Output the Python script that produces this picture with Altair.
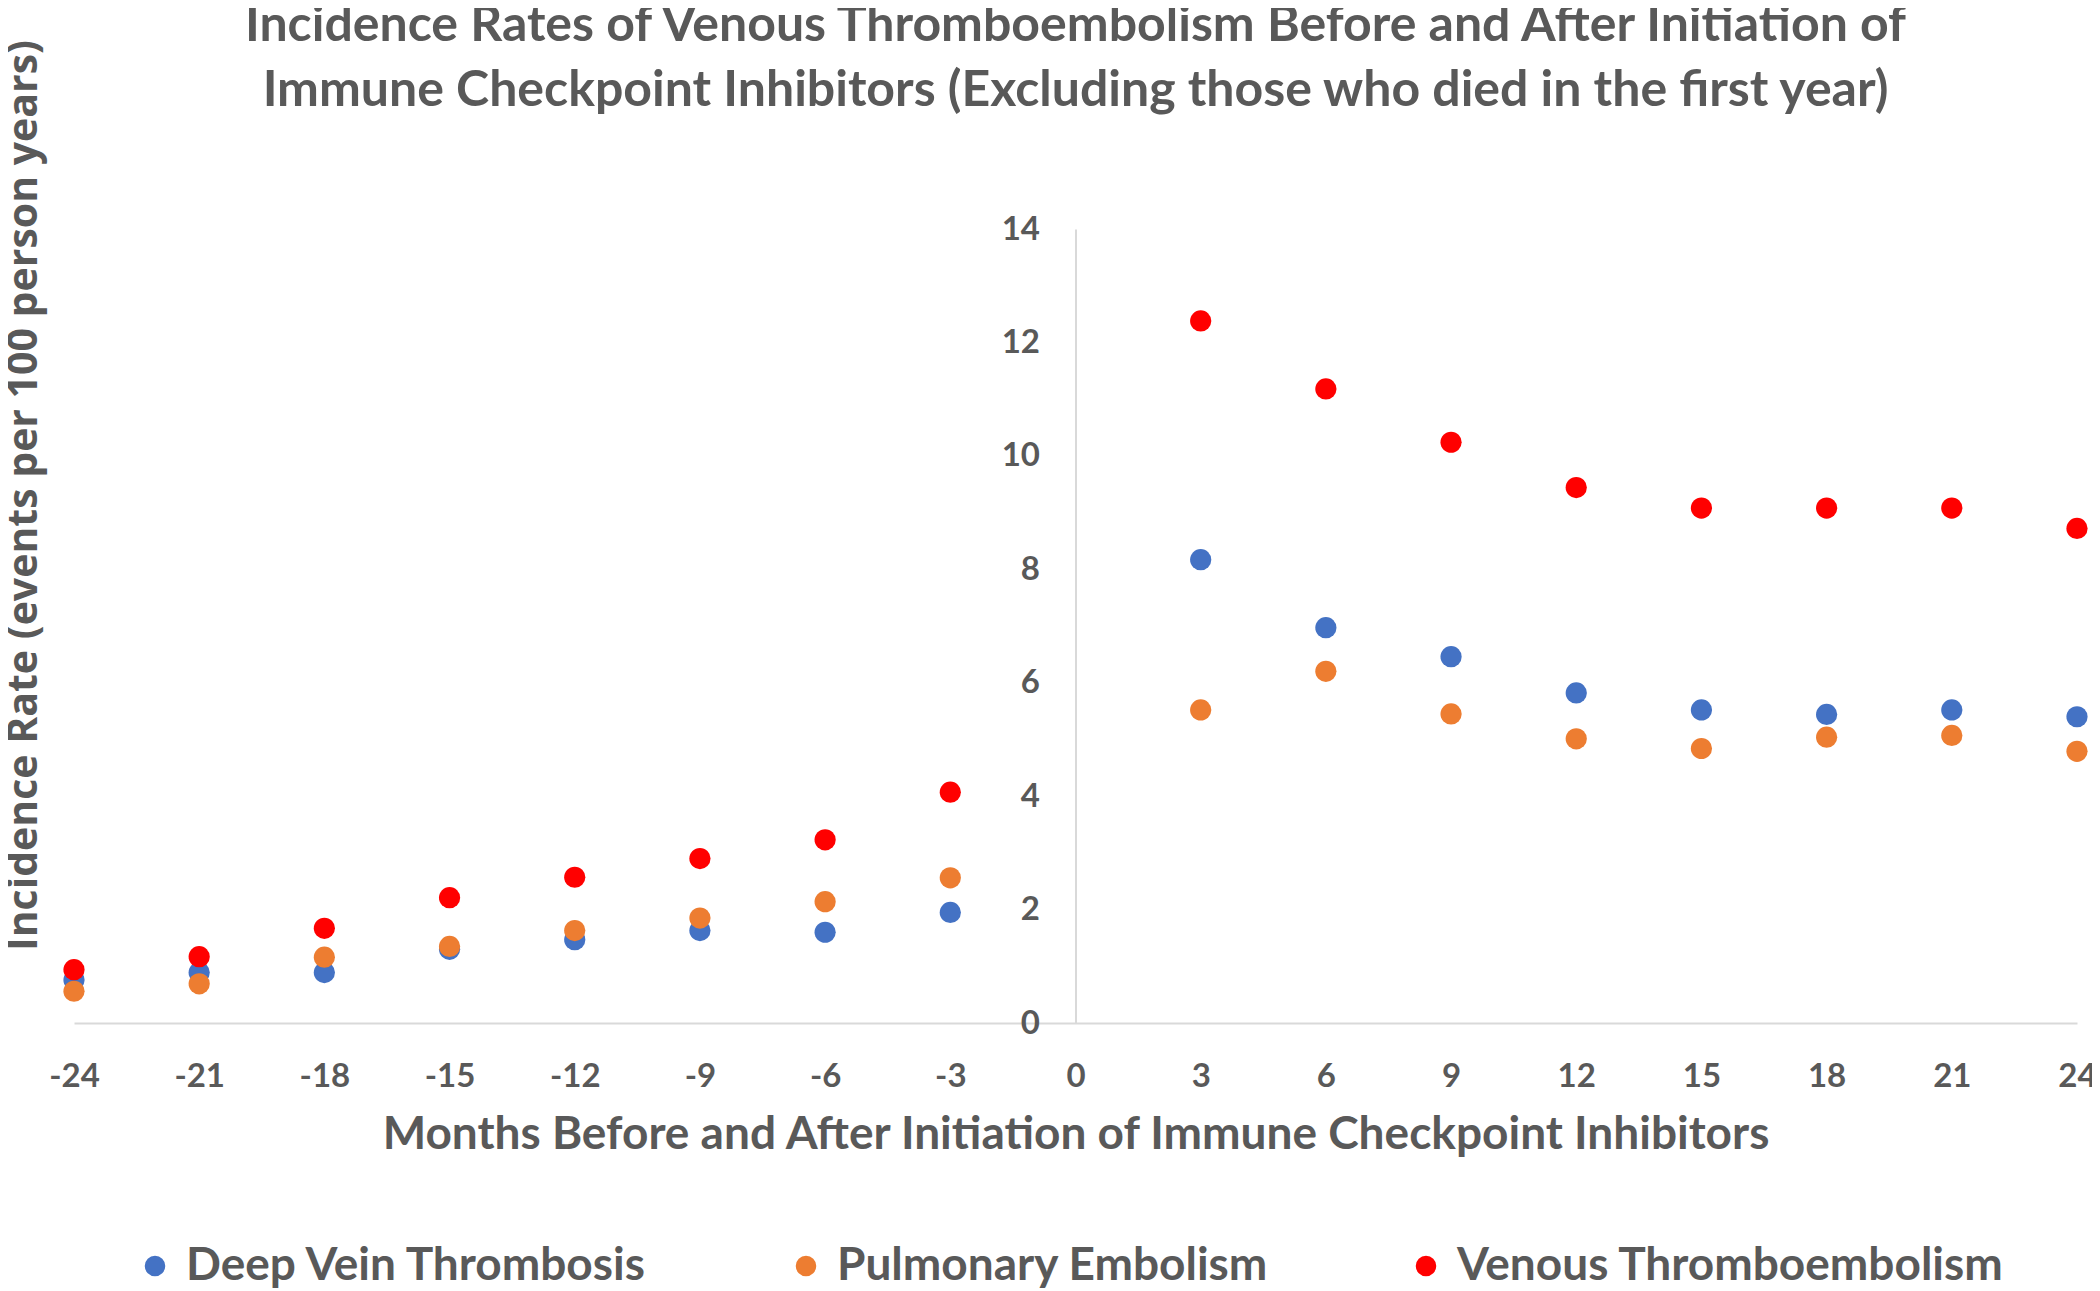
import altair as alt
import pandas as pd

months = [-24, -21, -18, -15, -12, -9, -6, -3, 3, 6, 9, 12, 15, 18, 21, 24]
dvt = [0.76, 0.89, 0.89, 1.30, 1.47, 1.63, 1.60, 1.95, 8.17, 6.97, 6.46, 5.82, 5.52, 5.44, 5.52, 5.40]
pe = [0.56, 0.69, 1.16, 1.35, 1.63, 1.85, 2.14, 2.56, 5.52, 6.20, 5.45, 5.01, 4.84, 5.04, 5.07, 4.79]
vte = [0.94, 1.17, 1.67, 2.21, 2.57, 2.90, 3.23, 4.07, 12.38, 11.18, 10.24, 9.44, 9.08, 9.08, 9.08, 8.72]
series_names = ["Deep Vein Thrombosis", "Pulmonary Embolism", "Venous Thromboembolism"]
series_colors = ["#4472C4", "#ED7D31", "#FF0000"]
x_ticks = list(range(-24, 25, 3))
y_ticks = list(range(0, 15, 2))

rows = []
for name, vals in zip(series_names, [dvt, pe, vte]):
    for m, v in zip(months, vals):
        rows.append({"Month": m, "Rate": v, "Series": name})
df = pd.DataFrame(rows)

W, H = 2003, 794
TEXT = "#595959"
NARROW = "Lato"
WIDE = "Open Sans"

chart = alt.Chart(df).mark_circle(size=450, opacity=1).encode(
    x=alt.X("Month:Q",
            scale=alt.Scale(domain=[-24, 24], nice=False),
            axis=alt.Axis(values=x_ticks, grid=False, ticks=False, domainColor="#D9D9D9",
                          domainWidth=2, labelFont=NARROW, labelFontSize=33, labelFontWeight="bold",
                          labelColor=TEXT, labelPadding=37, labelFlush=False,
                          labelExpr="toString(datum.value)",
                          title="Months Before and After Initiation of Immune Checkpoint Inhibitors",
                          titleFont=NARROW, titleFontSize=46, titleFontWeight="bold", titleColor=TEXT,
                          titleY=111, titleBaseline="middle")),
    y=alt.Y("Rate:Q",
            scale=alt.Scale(domain=[0, 14], nice=False),
            axis=alt.Axis(values=y_ticks, grid=False, ticks=False, domainColor="#D9D9D9",
                          domainWidth=2, offset=-W / 2, labelFont=NARROW, labelFontSize=33,
                          labelFontWeight="bold", labelColor=TEXT, labelPadding=36,
                          title="Incidence Rate (events per 100 person years)",
                          titleFont=WIDE, titleFontSize=41, titleFontWeight="bold", titleColor=TEXT,
                          titleX=-W / 2 - 50, titleY=266, titleBaseline="middle", titleAngle=-90)),
    color=alt.Color("Series:N",
                    scale=alt.Scale(domain=series_names, range=series_colors),
                    legend=alt.Legend(title=None, orient="none", direction="horizontal",
                                      legendX=58, legendY=1014, symbolType="circle",
                                      symbolSize=420, symbolStrokeWidth=0, labelFont=NARROW,
                                      labelFontSize=46, labelFontWeight="bold", labelColor=TEXT,
                                      labelOffset=8, columnPadding=134, labelLimit=1000)),
).properties(
    width=W, height=H,
    title=alt.Title(
        ["Incidence Rates of Venous Thromboembolism Before and After Initiation of",
         "Immune Checkpoint Inhibitors (Excluding those who died in the first year)"],
        font=NARROW, fontSize=50, fontWeight="bold", color=TEXT, anchor="middle",
        lineHeight=65, offset=0, dy=76),
    autosize=alt.AutoSizeParams(type="none"),
    padding={"left": 66, "top": 221, "right": 15, "bottom": 266},
).configure_view(stroke=None)

chart.save("out.html", embed_options={"renderer": "svg", "actions": False})
